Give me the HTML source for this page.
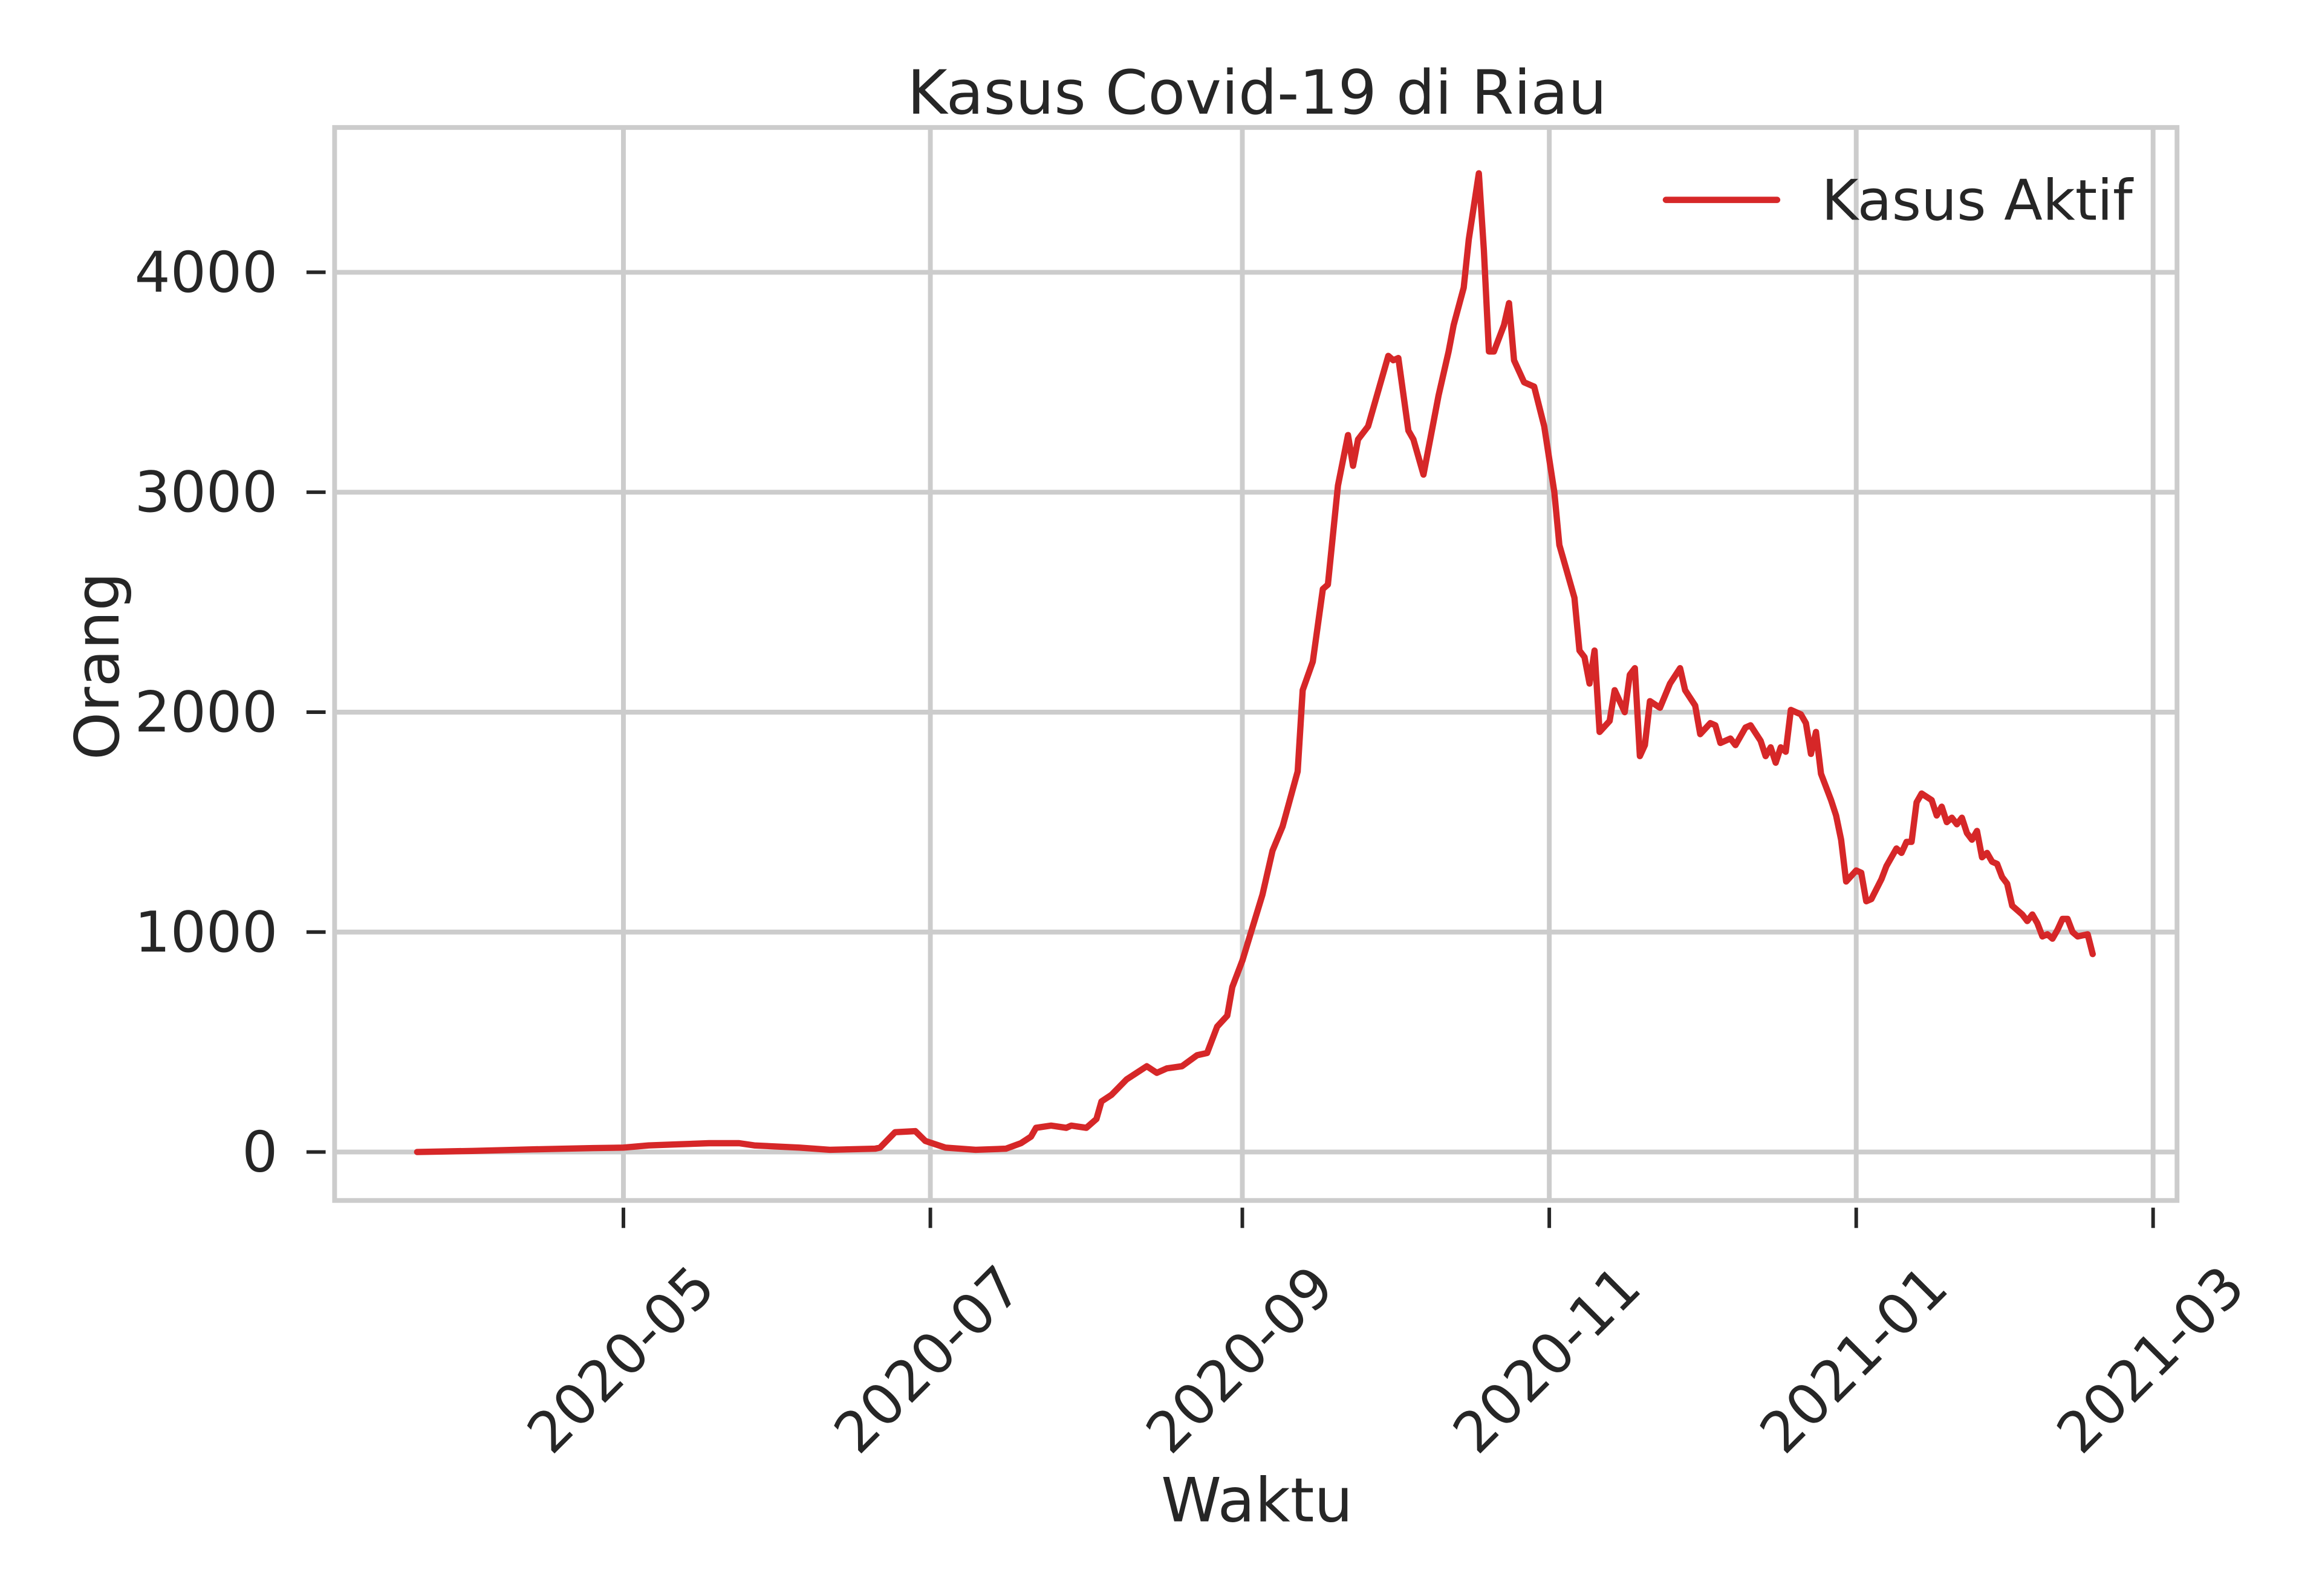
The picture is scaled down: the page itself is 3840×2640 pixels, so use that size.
<!DOCTYPE html>
<html><head><meta charset="utf-8"><style>
html,body{margin:0;padding:0;background:#fff;}
svg{display:block;font-family:"DejaVu Sans","Liberation Sans",sans-serif;}
</style></head><body>
<svg id="chart" width="3840" height="2640" viewBox="0 0 3840 2640" xmlns="http://www.w3.org/2000/svg">
<rect width="3840" height="2640" fill="#fff"/>
<g transform="scale(0.9899)">
<g id="grid"></g>
<rect x="559" y="213" width="3078" height="1793" fill="none" stroke="#cccccc" stroke-width="8"/>
<g id="ticks"></g>
<path id="series" fill="none" stroke="#d62728" stroke-width="10.5" stroke-linejoin="round" stroke-linecap="round"/>
<text x="2100" y="190" font-size="102" fill="#262626" text-anchor="middle">Kasus Covid-19 di Riau</text>
<text x="2100" y="2542" font-size="102" fill="#262626" text-anchor="middle">Waktu</text>
<text transform="translate(198,1113) rotate(-90)" font-size="102" fill="#262626" text-anchor="middle">Orang</text>
<g>
<line x1="2783" y1="334" x2="2969" y2="334" stroke="#d62728" stroke-width="10.5" stroke-linecap="round"/>
<text x="3043" y="367" font-size="94" fill="#262626">Kasus Aktif</text>
</g>
</g>
</svg>
<script>
const startDate = "2020-03-21";
const days = [0,11,23,35,41,46,52,58,64,67,76,82,91,92,95,99,101,105,111,117,120,122,123,126,129,130,133,135,136,138,141,143,145,147,149,152,155,157,159,161,162,164,166,168,170,172,175,176,178,180,181,183,185,186,187,189,191,193,194,195,197,198,200,203,205,206,208,209,211,212,213,214,216,217,218,220,222,224,226,227,228,230,231,232,233,234,235,237,238,240,241,242,243,244,245,247,249,251,252,254,255,257,258,259,261,262,264,265,267,268,269,270,271,272,273,275,276,277,278,279,281,282,283,284,286,287,288,289,291,292,294,295,296,297,298,299,301,302,303,304,305,306,307,308,309,310,311,312,313,314,315,316,317,319,320,321,322,323,324,325,326,327,328,329,330,332,333];
const activeCases = [0,5,12,18,20,30,35,40,40,30,20,10,15,20,90,95,50,20,10,15,40,70,110,120,110,120,110,150,230,260,330,360,390,360,380,390,440,450,570,620,750,870,1020,1170,1370,1480,1730,2100,2230,2560,2580,3030,3260,3120,3240,3300,3460,3620,3600,3610,3280,3240,3080,3440,3640,3760,3930,4150,4450,4100,3640,3640,3760,3860,3600,3500,3480,3300,3000,2760,2680,2520,2280,2250,2130,2280,1910,1960,2100,2000,2170,2200,1800,1850,2050,2020,2130,2200,2100,2030,1900,1950,1940,1860,1880,1850,1930,1940,1870,1800,1840,1770,1840,1820,2010,1990,1950,1810,1910,1720,1600,1530,1420,1230,1280,1270,1140,1150,1240,1300,1380,1360,1410,1410,1590,1630,1600,1530,1570,1500,1520,1490,1520,1450,1420,1460,1340,1360,1320,1310,1250,1220,1120,1080,1050,1080,1040,980,990,970,1010,1060,1060,1000,980,990,900];
const xTickLabels = ["2020-05","2020-07","2020-09","2020-11","2021-01","2021-03"];
const yTickValues = [0,1000,2000,3000,4000];

const NS = "http://www.w3.org/2000/svg";
const DAY = 86400000;
const t0 = Date.parse(startDate + "T00:00:00Z");
const refA = Date.parse("2020-05-01T00:00:00Z"), refB = Date.parse("2021-03-01T00:00:00Z");
const pxA = 1041.5, pxB = 3597;
function xScale(ms){ return pxA + (ms - refA) / (refB - refA) * (pxB - pxA); }
function xDay(d){ return xScale(t0 + d * DAY); }
function yScale(v){ return 1925 - v * (1925 - 455) / 4000; }

const grid = document.getElementById('grid');
const ticks = document.getElementById('ticks');
function mk(tag, attrs, parent){ const e = document.createElementNS(NS, tag); for (const k in attrs) e.setAttribute(k, attrs[k]); parent.appendChild(e); return e; }

xTickLabels.forEach(lbl => {
  const x = xScale(Date.parse(lbl + "-01T00:00:00Z"));
  const g = mk('line', {x1:x, y1:213, x2:x, y2:2006, stroke:'#cccccc', 'stroke-width':8}, grid);
  
  
  const t = mk('line', {x1:x, y1:2018, x2:x, y2:2052, stroke:'#262626', 'stroke-width':6}, ticks);
  
  
  const tx = mk('text', {transform:`translate(${x - 4},2272) rotate(-45)`, 'font-size':94, fill:'#262626', 'text-anchor':'middle', 'dominant-baseline':'central'}, ticks);
  tx.textContent = lbl;
  
  
});
yTickValues.forEach(v => {
  const y = yScale(v);
  const g = mk('line', {x1:559, y1:y, x2:3637, y2:y, stroke:'#cccccc', 'stroke-width':8}, grid);
  
  
  const t = mk('line', {x1:512, y1:y, x2:544, y2:y, stroke:'#262626', 'stroke-width':6}, ticks);
  
  
  const tx = mk('text', {x:464, y:y, 'font-size':94, fill:'#262626', 'text-anchor':'end', 'dominant-baseline':'central'}, ticks);
  tx.textContent = String(v);
  
  
});
let d = '';
days.forEach((dd, i) => { d += (i ? 'L' : 'M') + xDay(dd).toFixed(1) + ' ' + yScale(activeCases[i]).toFixed(1); });
document.getElementById('series').setAttribute('d', d);
</script>
</body></html>
